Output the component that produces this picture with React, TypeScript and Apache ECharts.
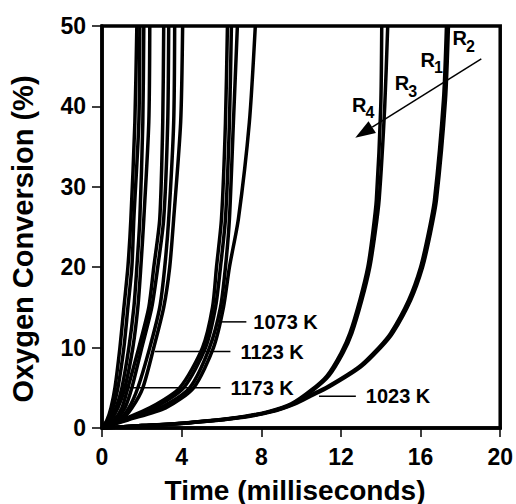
import React, { useEffect, useRef } from "react";
import * as echarts from "echarts";

// Axis ticks
const xTicks = [0, 4, 8, 12, 16, 20];
const yTicks = [0, 10, 20, 30, 40, 50];

// Conversion levels (%) at which times (ms) were read, per temperature
const convHot = [0, 1, 2.5, 5, 10, 15, 20, 26, 38, 50];

// 1173 K
const t1173R4 = [0, 0.25, 0.45, 0.65, 0.9, 1.1, 1.3, 1.45, 1.65, 1.75];
const t1173R3 = [0, 0.3, 0.55, 0.8, 1.1, 1.3, 1.5, 1.6, 1.85, 1.9];
const t1173R1 = [0, 0.4, 0.7, 1.0, 1.35, 1.6, 1.75, 1.9, 2.05, 2.1];
const t1173R2 = [0, 0.45, 0.8, 1.15, 1.55, 1.8, 1.95, 2.1, 2.35, 2.4];

// 1123 K
const t1123R4 = [0, 0.6, 1.0, 1.3, 1.85, 2.35, 2.6, 2.9, 3.05, 3.1];
const t1123R3 = [0, 0.7, 1.15, 1.5, 2.0, 2.5, 2.8, 3.1, 3.3, 3.35];
const t1123R1 = [0, 0.85, 1.35, 1.8, 2.4, 2.9, 3.15, 3.35, 3.6, 3.65];
const t1123R2 = [0, 0.95, 1.5, 2.05, 2.6, 3.1, 3.4, 3.6, 3.95, 4.05];

// 1073 K
const t1073R4 = [0, 1.0, 2.4, 3.9, 5.05, 5.55, 5.75, 6.0, 6.2, 6.3];
const t1073R3 = [0, 1.1, 2.6, 4.1, 5.2, 5.7, 5.95, 6.2, 6.4, 6.5];
const t1073R1 = [0, 1.2, 2.9, 4.4, 5.4, 5.95, 6.2, 6.4, 6.6, 6.8];
const t1073R2 = [0, 1.3, 3.2, 4.6, 5.6, 6.1, 6.4, 6.85, 7.4, 7.7];

// 1023 K
const conv1023Fast = [0, 0.3, 0.6, 1.2, 2, 3, 4.7, 6.5, 9.3, 11.8, 15.9, 20, 24.3, 28.4, 40, 50];
const t1023R4 = [0, 2, 4, 6.5, 8.3, 9.5, 10.5, 11.3, 12.0, 12.45, 12.95, 13.35, 13.6, 13.78, 14.0, 14.05];
const t1023R3 = [0, 2, 4.1, 6.6, 8.4, 9.6, 10.6, 11.4, 12.1, 12.55, 13.05, 13.45, 13.72, 13.92, 14.2, 14.35];
const conv1023Slow = [0, 0.3, 0.6, 1.2, 2, 3, 4, 5.1, 7.6, 10, 11.8, 15.9, 20, 24.3, 28.4, 40.8, 50];
const t1023R1 = [0, 2, 4.1, 6.6, 8.4, 9.6, 10.4, 11.3, 12.9, 13.9, 14.5, 15.4, 16.0, 16.4, 16.7, 17.15, 17.3];
const t1023R2 = [0, 2, 4.2, 6.7, 8.5, 9.7, 10.5, 11.4, 13.0, 14.0, 14.6, 15.5, 16.1, 16.5, 16.8, 17.25, 17.4];

// Temperature labels: [text, leader start t, leader end t, conversion, text t]
const tempLabels: [string, number, number, number, number][] = [
  ["1073 K", 5.9, 7.25, 13.2, 7.6],
  ["1123 K", 2.65, 6.45, 9.5, 6.95],
  ["1173 K", 1.0, 5.95, 5.0, 6.45],
  ["1023 K", 10.9, 12.75, 3.95, 13.25],
];

// Reactor labels: [name, subscript, t, conversion]
const reactorLabels: [string, string, number, number][] = [
  ["R", "2", 17.6, 48.5],
  ["R", "1", 16.0, 45.8],
  ["R", "3", 14.7, 42.9],
  ["R", "4", 12.55, 40.2],
];
// Arrow from (t, conv) to (t, conv)
const arrowFrom = [19.05, 45.9];
const arrowTo = [12.72, 36.1];

const FONT = "Liberation Sans, Arial, sans-serif";

function curve(ts: number[], cs: number[]) {
  return ts.map((t, i) => [t, cs[i]]);
}

export default function App() {
  const ref = useRef<HTMLDivElement>(null);
  useEffect(() => {
    if (!ref.current) return;
    const chart = echarts.init(ref.current, null, { renderer: "svg" });
    const curves = [
      curve(t1173R4, convHot), curve(t1173R3, convHot), curve(t1173R1, convHot), curve(t1173R2, convHot),
      curve(t1123R4, convHot), curve(t1123R3, convHot), curve(t1123R1, convHot), curve(t1123R2, convHot),
      curve(t1073R4, convHot), curve(t1073R3, convHot), curve(t1073R1, convHot), curve(t1073R2, convHot),
      curve(t1023R4, conv1023Fast), curve(t1023R3, conv1023Fast),
      curve(t1023R1, conv1023Slow), curve(t1023R2, conv1023Slow),
    ];
    chart.setOption({
      animation: false,
      backgroundColor: "#fff",
      grid: {
        left: 102, right: 13, top: 26, bottom: 76,
        show: true, borderColor: "#000", borderWidth: 3.5, backgroundColor: "transparent",
      },
      xAxis: {
        type: "value",
        min: xTicks[0], max: xTicks[xTicks.length - 1], interval: xTicks[1] - xTicks[0],
        splitLine: { show: false },
        axisLine: { show: true, onZero: false, lineStyle: { color: "#000", width: 3.5 } },
        axisTick: { show: true, inside: false, length: 9, lineStyle: { color: "#000", width: 1.5 } },
        axisLabel: { color: "#000", fontFamily: FONT, fontWeight: "bold", fontSize: 23, margin: 17 },
      },
      yAxis: {
        type: "value",
        min: yTicks[0], max: yTicks[yTicks.length - 1], interval: yTicks[1] - yTicks[0],
        splitLine: { show: false },
        axisLine: { show: true, onZero: false, lineStyle: { color: "#000", width: 3.5 } },
        axisTick: { show: true, inside: false, length: 10, lineStyle: { color: "#000", width: 1.5 } },
        axisLabel: { color: "#000", fontFamily: FONT, fontWeight: "bold", fontSize: 23, margin: 16 },
      },
      series: curves.map((d) => ({
        type: "line",
        data: d,
        showSymbol: false,
        smooth: 0.25,
        clip: true,
        lineStyle: { color: "#000", width: 3.5 },
      })),
    });

    const px = (t: number, c: number) => chart.convertToPixel({ gridIndex: 0 }, [t, c]) as number[];
    const graphics: any[] = [];
    tempLabels.forEach(([txt, t0, t1, c, tt]) => {
      const a = px(t0, c), b = px(t1, c), p = px(tt, c);
      graphics.push({ type: "line", shape: { x1: a[0], y1: a[1], x2: b[0], y2: b[1] }, style: { stroke: "#000", lineWidth: 1.5 } });
      graphics.push({ type: "text", x: p[0], y: p[1], style: { text: txt, fill: "#000", font: `bold 20px ${FONT}`, textAlign: "left", textVerticalAlign: "middle" } });
    });
    reactorLabels.forEach(([r, s, t, c]) => {
      const p = px(t, c);
      graphics.push({ type: "text", x: p[0], y: p[1], style: { text: r, fill: "#000", font: `bold 20px ${FONT}`, textAlign: "left", textVerticalAlign: "middle" } });
      graphics.push({ type: "text", x: p[0] + 13.5, y: p[1] + 8, style: { text: s, fill: "#000", font: `bold 16px ${FONT}`, textAlign: "left", textVerticalAlign: "middle" } });
    });
    const a0 = px(arrowFrom[0], arrowFrom[1]);
    const a1 = px(arrowTo[0], arrowTo[1]);
    const dx = a1[0] - a0[0], dy = a1[1] - a0[1];
    const len = Math.hypot(dx, dy);
    const ux = dx / len, uy = dy / len;
    const hl = 20, hw = 7;
    const bx = a1[0] - ux * hl, by = a1[1] - uy * hl;
    graphics.push({ type: "line", shape: { x1: a0[0], y1: a0[1], x2: bx, y2: by }, style: { stroke: "#000", lineWidth: 1.5 } });
    graphics.push({
      type: "polygon",
      shape: { points: [[a1[0], a1[1]], [bx - uy * hw, by + ux * hw], [bx + uy * hw, by - ux * hw]] },
      style: { fill: "#000" },
    });
    // axis titles
    graphics.push({ type: "text", x: 295, y: 490, style: { text: "Time (milliseconds)", fill: "#000", font: `bold 28px ${FONT}`, textAlign: "center", textVerticalAlign: "middle" } });
    graphics.push({ type: "text", x: 23, y: 239, rotation: Math.PI / 2, style: { text: "Oxygen Conversion (%)", fill: "#000", font: `bold 29px ${FONT}`, textAlign: "center", textVerticalAlign: "middle" } });
    chart.setOption({ graphic: graphics });

    return () => chart.dispose();
  }, []);
  return <div ref={ref} style={{ width: 516, height: 504, position: "absolute", left: 0, top: 0 }} />;
}
